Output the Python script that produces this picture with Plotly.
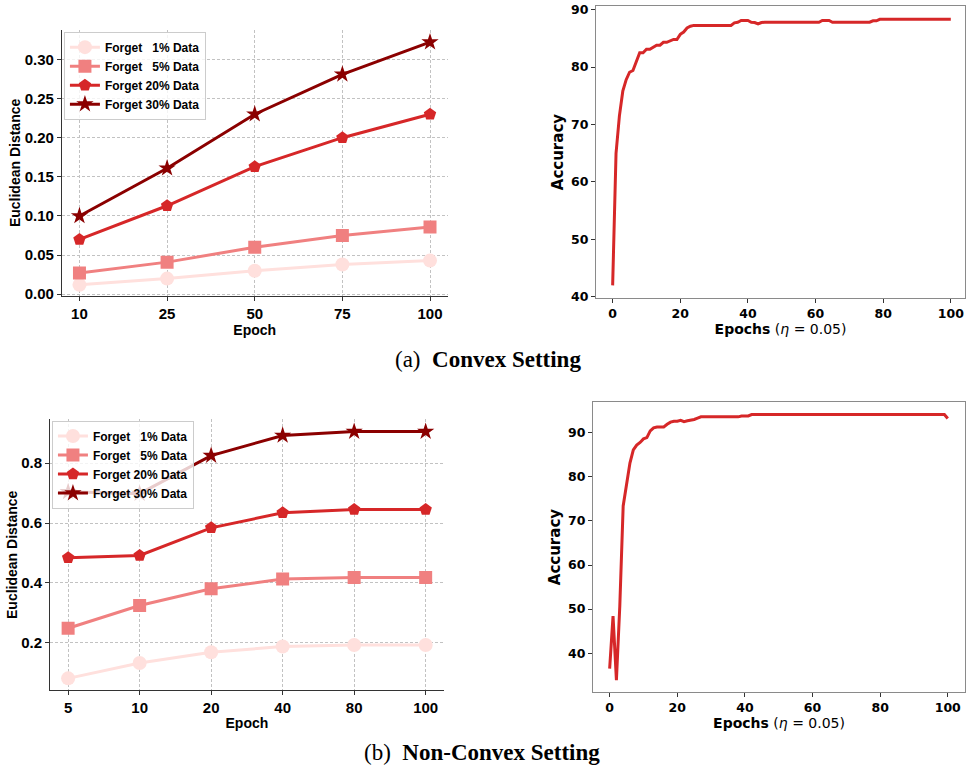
import plotly.graph_objects as go

# ---------------- data ----------------
convex_epochs = ["10", "25", "50", "75", "100"]
convex_f1 = [0.012, 0.020, 0.030, 0.038, 0.043]
convex_f5 = [0.027, 0.041, 0.060, 0.075, 0.086]
convex_f20 = [0.070, 0.113, 0.163, 0.200, 0.230]
convex_f30 = [0.100, 0.161, 0.230, 0.281, 0.322]

nonconvex_epochs = ["5", "10", "20", "40", "80", "100"]
nonconvex_f1 = [0.082, 0.133, 0.169, 0.188, 0.193, 0.193]
nonconvex_f5 = [0.249, 0.325, 0.381, 0.413, 0.418, 0.418]
nonconvex_f20 = [0.484, 0.492, 0.584, 0.634, 0.645, 0.645]
nonconvex_f30 = [0.704, 0.698, 0.825, 0.892, 0.905, 0.905]

series_labels = ["Forget\u00a0\u00a0\u00a01% Data", "Forget\u00a0\u00a0\u00a05% Data",
                 "Forget 20% Data", "Forget 30% Data"]

acc_epochs = list(range(101))
convex_acc = [
    42.0, 65.0, 71.5, 75.8, 77.8, 79.1, 79.4, 81.0, 82.5, 82.5,
    83.1, 83.1, 83.5, 83.8, 83.8, 84.3, 84.3, 84.6, 84.8, 84.8,
    85.7, 86.1, 86.8, 87.1, 87.25, 87.25, 87.25, 87.25, 87.25, 87.25,
    87.25, 87.25, 87.25, 87.25, 87.25, 87.25, 87.7, 87.8, 88.1, 88.1,
    88.1, 87.8, 87.75, 87.5, 87.75, 87.8, 87.8, 87.8, 87.8, 87.8,
    87.8, 87.8, 87.8, 87.8, 87.8, 87.8, 87.8, 87.8, 87.8, 87.8,
    87.8, 87.8, 88.1, 88.1, 88.1, 87.8, 87.8, 87.8, 87.8, 87.8,
    87.8, 87.8, 87.8, 87.8, 87.8, 87.8, 87.8, 88.05, 88.05, 88.3,
    88.3, 88.3, 88.3, 88.3, 88.3, 88.3, 88.3, 88.3, 88.3, 88.3,
    88.3, 88.3, 88.3, 88.3, 88.3, 88.3, 88.3, 88.3, 88.3, 88.3,
    88.3,
]
nonconvex_acc = [
    36.5, 48.4, 33.9, 50.7, 73.4, 78.3, 83.1, 86.1, 87.2, 87.8,
    88.6, 88.9, 90.4, 91.1, 91.3, 91.3, 91.3, 91.9, 92.4, 92.6,
    92.6, 92.8, 92.5, 92.7, 92.8, 93.0, 93.3, 93.6, 93.6, 93.6,
    93.6, 93.6, 93.6, 93.6, 93.6, 93.6, 93.6, 93.6, 93.6, 93.8,
    93.8, 93.8, 94.1, 94.1, 94.1, 94.1, 94.1, 94.1, 94.1, 94.1,
    94.1, 94.1, 94.1, 94.1, 94.1, 94.1, 94.1, 94.1, 94.1, 94.1,
    94.1, 94.1, 94.1, 94.1, 94.1, 94.1, 94.1, 94.1, 94.1, 94.1,
    94.1, 94.1, 94.1, 94.1, 94.1, 94.1, 94.1, 94.1, 94.1, 94.1,
    94.1, 94.1, 94.1, 94.1, 94.1, 94.1, 94.1, 94.1, 94.1, 94.1,
    94.1, 94.1, 94.1, 94.1, 94.1, 94.1, 94.1, 94.1, 94.1, 94.1,
    93.2,
]

# ---------------- styles ----------------
colors = ["#ffe0dd", "#f08080", "#d62728", "#8b0000"]
symbols = ["circle", "square", "pentagon", "star"]
msizes = [14, 13, 13, 13]
SANS = "Liberation Sans, Arial, sans-serif"
DJV = "DejaVu Sans, sans-serif"
W, H = 966, 776

fig = go.Figure()

def add_dist(epochs, seriesset, xa, ya, legend):
    for i, ys in enumerate(seriesset):
        fig.add_trace(go.Scatter(
            x=epochs, y=ys, mode="lines+markers", name=series_labels[i],
            line=dict(color=colors[i], width=3),
            marker=dict(symbol=symbols[i], size=msizes[i],
                        color=colors[i], line=dict(width=0)),
            xaxis=xa, yaxis=ya, legend=legend))

add_dist(convex_epochs, [convex_f1, convex_f5, convex_f20, convex_f30], "x", "y", "legend")
add_dist(nonconvex_epochs, [nonconvex_f1, nonconvex_f5, nonconvex_f20, nonconvex_f30], "x3", "y3", "legend2")

fig.add_trace(go.Scatter(x=acc_epochs, y=convex_acc, mode="lines",
                         line=dict(color="#d62728", width=3), xaxis="x2", yaxis="y2",
                         showlegend=False))
fig.add_trace(go.Scatter(x=acc_epochs, y=nonconvex_acc, mode="lines",
                         line=dict(color="#d62728", width=3), xaxis="x4", yaxis="y4",
                         showlegend=False))

def px(v):
    return v / W

def py(v):
    return 1 - v / H

left_axis = dict(showline=True, linecolor="#333333", linewidth=1.2, mirror=False,
                 ticks="outside", ticklen=4, tickcolor="#333333", tickwidth=1.2,
                 showgrid=True, gridcolor="#c2c2c2", griddash="3px,2px", gridwidth=0.8,
                 zeroline=False, ticklabeloverflow="allow",
                 tickfont=dict(family=SANS, size=15, color="black", weight="bold"))
right_axis = dict(showline=True, linecolor="#8a8a8a", linewidth=1.2, mirror=True,
                  ticks="outside", ticklen=4, tickcolor="#333333", tickwidth=1.2,
                  showgrid=False, zeroline=False, ticklabeloverflow="allow",
                  tickfont=dict(family=DJV, size=12.5, color="black", weight="bold"))

lbl_font = dict(family=SANS, size=14, color="black", weight="bold")
acc_title = dict(text="<b>Epochs</b> (<i>η</i> = 0.05)", font=dict(family=DJV, size=14, color="black"), standoff=4)
acc_ytitle = dict(text="Accuracy", font=dict(family=DJV, size=15, color="black", weight="bold"), standoff=3)
leg_style = dict(xanchor="left", yanchor="top",
                 bgcolor="rgba(255,255,255,0.8)", bordercolor="#cccccc", borderwidth=1,
                 font=dict(family=SANS, size=12, color="black", weight="bold"),
                 tracegroupgap=0, itemwidth=30)

fig.update_layout(
    width=W, height=H, margin=dict(l=0, r=0, t=0, b=0),
    paper_bgcolor="white", plot_bgcolor="white",
    xaxis=dict(left_axis, domain=[px(62), px(448)], anchor="y", type="category",
               range=[-0.2, 4.2], title=dict(text="Epoch", font=lbl_font, standoff=2)),
    yaxis=dict(left_axis, domain=[py(296), py(26)], anchor="x", range=[-0.0025, 0.338],
               tickvals=[0, 0.05, 0.1, 0.15, 0.2, 0.25, 0.3], tickformat=".2f",
               title=dict(text="Euclidean Distance", font=lbl_font, standoff=0)),
    xaxis2=dict(right_axis, domain=[px(596.7), 1.0], anchor="y2", range=[-4.9, 104.2],
                tickvals=[0, 20, 40, 60, 80, 100], title=acc_title),
    yaxis2=dict(right_axis, domain=[py(297.7), py(2.3)], anchor="x2", range=[39.83, 90.58],
                tickvals=[40, 50, 60, 70, 80, 90], title=acc_ytitle),
    xaxis3=dict(left_axis, domain=[px(50.3), px(444)], anchor="y3", type="category",
                range=[-0.25, 5.25], title=dict(text="Epoch", font=lbl_font, standoff=2)),
    yaxis3=dict(left_axis, domain=[py(695.3), py(420.7)], anchor="x3", range=[0.042, 0.946],
                tickvals=[0.2, 0.4, 0.6, 0.8], tickformat=".1f",
                title=dict(text="Euclidean Distance", font=lbl_font, standoff=0)),
    xaxis4=dict(right_axis, domain=[px(593.7), 1.0], anchor="y4", range=[-4.9, 105.1],
                tickvals=[0, 20, 40, 60, 80, 100], title=acc_title),
    yaxis4=dict(right_axis, domain=[py(697), py(403.3)], anchor="x4", range=[31.2, 96.94],
                tickvals=[40, 50, 60, 70, 80, 90], title=acc_ytitle),
    legend=dict(leg_style, x=px(64), y=py(28)),
    legend2=dict(leg_style, x=px(52), y=py(422)),
    annotations=[
        dict(text="(a)\u00a0 <b>Convex Setting</b>", x=px(489), y=py(360), xref="paper", yref="paper",
             showarrow=False, xanchor="center", yanchor="middle",
             font=dict(family="Liberation Serif, Times New Roman, serif", size=23, color="black")),
        dict(text="(b)\u00a0 <b>Non-Convex Setting</b>", x=px(482), y=py(758), xref="paper", yref="paper",
             showarrow=False, xanchor="center", yanchor="middle",
             font=dict(family="Liberation Serif, Times New Roman, serif", size=23, color="black")),
    ],
)

fig.write_html("out.html", config={"displayModeBar": False},
               post_script="document.body.style.margin='0px';document.body.style.overflow='hidden';")
